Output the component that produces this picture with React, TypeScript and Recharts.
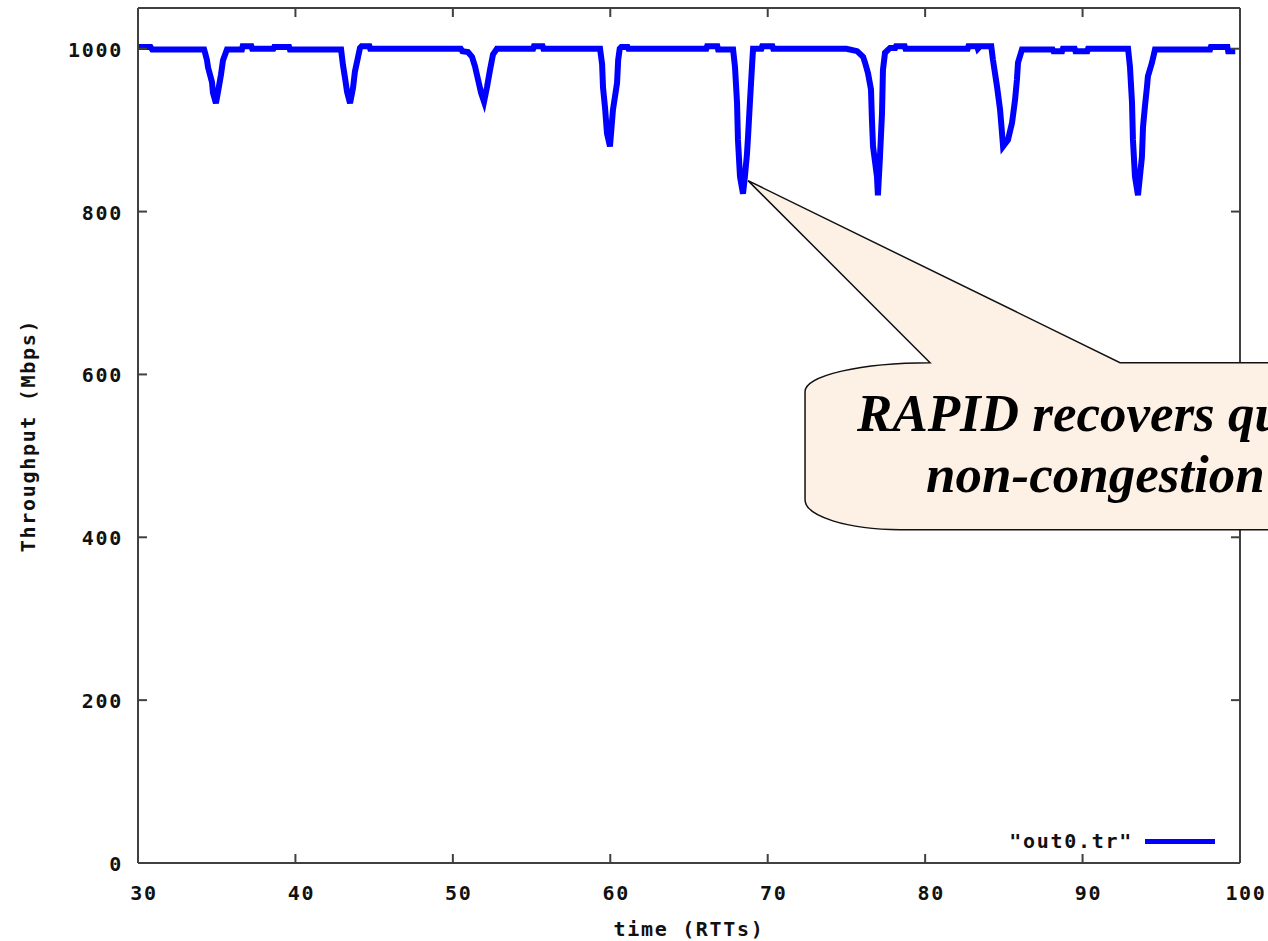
import {
  LineChart,
  Line,
  XAxis,
  YAxis,
  ReferenceDot,
  Legend,
  Customized,
} from "recharts";

// throughput trace: time in RTTs, rate in Mbps
const times = [
  30.0, 30.8, 30.9, 34.2, 34.26, 34.38, 34.45, 34.7, 34.76, 34.95, 35.08, 35.27, 35.4, 35.65,
  36.6, 36.65, 37.2, 37.25, 38.6, 38.65, 39.6, 39.65,
  42.9, 43.02, 43.15, 43.28, 43.47, 43.66, 43.78, 43.97, 44.1, 44.2, 44.7, 44.75,
  50.5, 50.6, 50.96, 51.22, 51.41, 51.6, 51.79, 51.98, 52.17, 52.36, 52.55, 52.8,
  55.1, 55.15, 55.7, 55.75,
  59.35, 59.48, 59.54, 59.67, 59.79, 59.98, 60.17, 60.43, 60.5, 60.6, 60.7, 61.1, 61.15,
  66.1, 66.15, 66.8, 66.85,
  67.8, 67.92, 68.05, 68.11, 68.24, 68.43, 68.55, 68.68, 68.75, 68.87, 69.0, 69.07,
  69.6, 69.65, 70.3, 70.35,
  75.0, 75.68, 76.06, 76.18, 76.37, 76.56, 76.62, 76.69, 76.94, 77.0, 77.13, 77.26, 77.32, 77.45, 77.77,
  78.1, 78.15, 78.7, 78.75, 82.7, 82.75, 83.3, 83.35, 83.5, 84.2,
  84.31, 84.57, 84.76, 84.88, 84.95, 85.26, 85.52, 85.71, 85.83, 85.9, 86.15,
  88.1, 88.15, 88.7, 88.75, 89.5, 89.55, 90.3, 90.35,
  92.89, 93.01, 93.14, 93.2, 93.33, 93.52, 93.77, 93.84, 93.96, 94.09, 94.15, 94.41, 94.6,
  98.1, 98.15, 99.2, 99.25, 99.7,
];

const throughput = [
  1002, 1002, 999, 999, 995, 986, 977, 959, 946, 933, 947, 968, 986, 999,
  999, 1003, 1003, 1000, 1000, 1002, 1002, 999,
  999, 980, 964, 947, 933, 952, 972, 989, 1001, 1003, 1003, 1000,
  1000, 997, 996, 990, 978, 962, 946, 935, 953, 974, 993, 1000,
  1000, 1003, 1003, 1000,
  1000, 981, 952, 927, 896, 880, 925, 958, 986, 1000, 1002, 1002, 1000,
  1000, 1003, 1003, 999,
  999, 978, 934, 888, 843, 822, 843, 870, 892, 934, 978, 1000,
  1000, 1003, 1003, 1000,
  1000, 997, 990, 983, 970, 950, 913, 880, 843, 820, 867, 921, 974, 995, 1001,
  1001, 1003, 1003, 1000, 1000, 1003, 1003, 1000, 1003, 1003,
  986, 953, 925, 897, 880, 888, 909, 937, 962, 983, 999,
  999, 997, 997, 1000, 1000, 997, 997, 1000,
  1000, 978, 934, 888, 843, 820, 867, 904, 929, 953, 966, 983, 999,
  999, 1002, 1002, 997, 997,
];

const xTicks = [30, 40, 50, 60, 70, 80, 90, 100];
const yTicks = [0, 200, 400, 600, 800, 1000];

const rows = times.map((t, i) => ({ t, v: throughput[i] }));

const W = 1268;
const H = 941;
const LEFT = 138;
const RIGHT = 28;
const TOP = 8;
const BOTTOM = 78;
const TICK = 9;

const mono = {
  fontFamily: "'DejaVu Sans Mono', monospace",
  fontWeight: 700,
  fontSize: 20,
  letterSpacing: 1.7,
  fill: "#111",
};

const frame = "#404040";

// gnuplot-style ticks: short marks pointing into the plot, labels outside
const BottomTick = ({ x, y, payload }: any) => (
  <g>
    <line x1={x} y1={y} x2={x} y2={y - TICK} stroke={frame} strokeWidth={2} />
    <text x={x + 6} y={y + 30} textAnchor="middle" dominantBaseline="central" style={mono}>
      {payload.value}
    </text>
  </g>
);

const TopTick = ({ x, y }: any) => (
  <line x1={x} y1={y} x2={x} y2={y + TICK} stroke={frame} strokeWidth={2} />
);

const LeftTick = ({ x, y, payload }: any) => (
  <g>
    <line x1={x} y1={y} x2={x + TICK} y2={y} stroke={frame} strokeWidth={2} />
    <text x={x - 15} y={y + 1} textAnchor="end" dominantBaseline="central" style={mono}>
      {payload.value}
    </text>
  </g>
);

const RightTick = ({ x, y }: any) => (
  <line x1={x} y1={y} x2={x - TICK} y2={y} stroke={frame} strokeWidth={2} />
);

// speech bubble hanging off the deepest dip
const Callout = ({ cx, cy }: any) => {
  const d = [
    `M ${cx + 57} ${cy + 211}`,
    `A 125 29 0 0 1 ${cx + 182} ${cy + 182}`,
    `L ${cx} ${cy}`,
    `L ${cx + 372} ${cy + 182}`,
    `L ${cx + 600} ${cy + 182}`,
    `L ${cx + 600} ${cy + 349}`,
    `L ${cx + 152} ${cy + 349}`,
    `A 95 30 0 0 1 ${cx + 57} ${cy + 319}`,
    "Z",
  ].join(" ");
  const serif = {
    fontFamily: "'Liberation Serif', 'Times New Roman', serif",
    fontWeight: 700,
    fontStyle: "italic",
    fontSize: 53,
    fill: "#000",
  };
  return (
    <g>
      <path d={d} fill="#fdf0e4" stroke="#111" strokeWidth={1.5} />
      <text x={cx + 109} y={cy + 250} style={serif}>
        RAPID recovers quickly from
      </text>
      <text x={cx + 178} y={cy + 311} style={serif}>
        non-congestion losses
      </text>
    </g>
  );
};

const Titles = () => (
  <g>
    <text
      x={(LEFT + W - RIGHT) / 2}
      y={929}
      textAnchor="middle"
      dominantBaseline="central"
      style={mono}
    >
      time (RTTs)
    </text>
    <text
      x={28}
      y={(TOP + H - BOTTOM) / 2}
      textAnchor="middle"
      dominantBaseline="central"
      transform={`rotate(-90 28 ${(TOP + H - BOTTOM) / 2})`}
      style={mono}
    >
      Throughput (Mbps)
    </text>
  </g>
);

const LegendBox = () => (
  <div
    style={{
      display: "flex",
      alignItems: "center",
      justifyContent: "flex-end",
      fontFamily: "'DejaVu Sans Mono', monospace",
      fontWeight: 700,
      fontSize: 20,
      letterSpacing: 1.7,
      color: "#111",
    }}
  >
    <span>"out0.tr"</span>
    <span
      style={{
        display: "inline-block",
        width: 70,
        height: 5,
        background: "#0000ff",
        marginLeft: 12,
      }}
    />
  </div>
);

export default function App() {
  return (
    <div
      style={{
        position: "absolute",
        left: 0,
        top: 0,
        width: W,
        height: H,
        overflow: "hidden",
        background: "#fff",
      }}
    >
      <LineChart width={W} height={H} data={rows} margin={{ top: 0, right: 0, bottom: 0, left: 0 }}>
        <XAxis
          xAxisId="b"
          dataKey="t"
          type="number"
          domain={[30, 100]}
          allowDataOverflow
          ticks={xTicks}
          orientation="bottom"
          height={BOTTOM}
          tickSize={0}
          tickMargin={0}
          tickLine={false}
          tick={<BottomTick />}
          stroke={frame}
          strokeWidth={2}
        />
        <XAxis
          xAxisId="t"
          dataKey="t"
          type="number"
          domain={[30, 100]}
          allowDataOverflow
          ticks={xTicks}
          orientation="top"
          height={TOP}
          tickSize={0}
          tickMargin={0}
          tickLine={false}
          tick={<TopTick />}
          stroke={frame}
          strokeWidth={2}
        />
        <YAxis
          yAxisId="l"
          type="number"
          domain={[0, 1050]}
          allowDataOverflow
          ticks={yTicks}
          orientation="left"
          width={LEFT}
          tickSize={0}
          tickMargin={0}
          tickLine={false}
          tick={<LeftTick />}
          stroke={frame}
          strokeWidth={2}
        />
        <YAxis
          yAxisId="r"
          type="number"
          domain={[0, 1050]}
          allowDataOverflow
          ticks={yTicks}
          orientation="right"
          width={RIGHT}
          tickSize={0}
          tickMargin={0}
          tickLine={false}
          tick={<RightTick />}
          stroke={frame}
          strokeWidth={2}
        />
        <Line
          xAxisId="b"
          yAxisId="l"
          dataKey="v"
          type="linear"
          stroke="#0000ff"
          strokeWidth={6}
          dot={false}
          activeDot={false}
          isAnimationActive={false}
        />
        <Legend
          layout="horizontal"
          verticalAlign="middle"
          wrapperStyle={{ left: 990, top: 829, width: 225, height: 26 }}
          content={<LegendBox />}
        />
        <Customized component={<Titles />} />
        <ReferenceDot
          xAxisId="b"
          yAxisId="l"
          x={68.75}
          y={838}
          r={0}
          zIndex={3000}
          shape={(p: any) => <Callout {...p} />}
        />
      </LineChart>
    </div>
  );
}
